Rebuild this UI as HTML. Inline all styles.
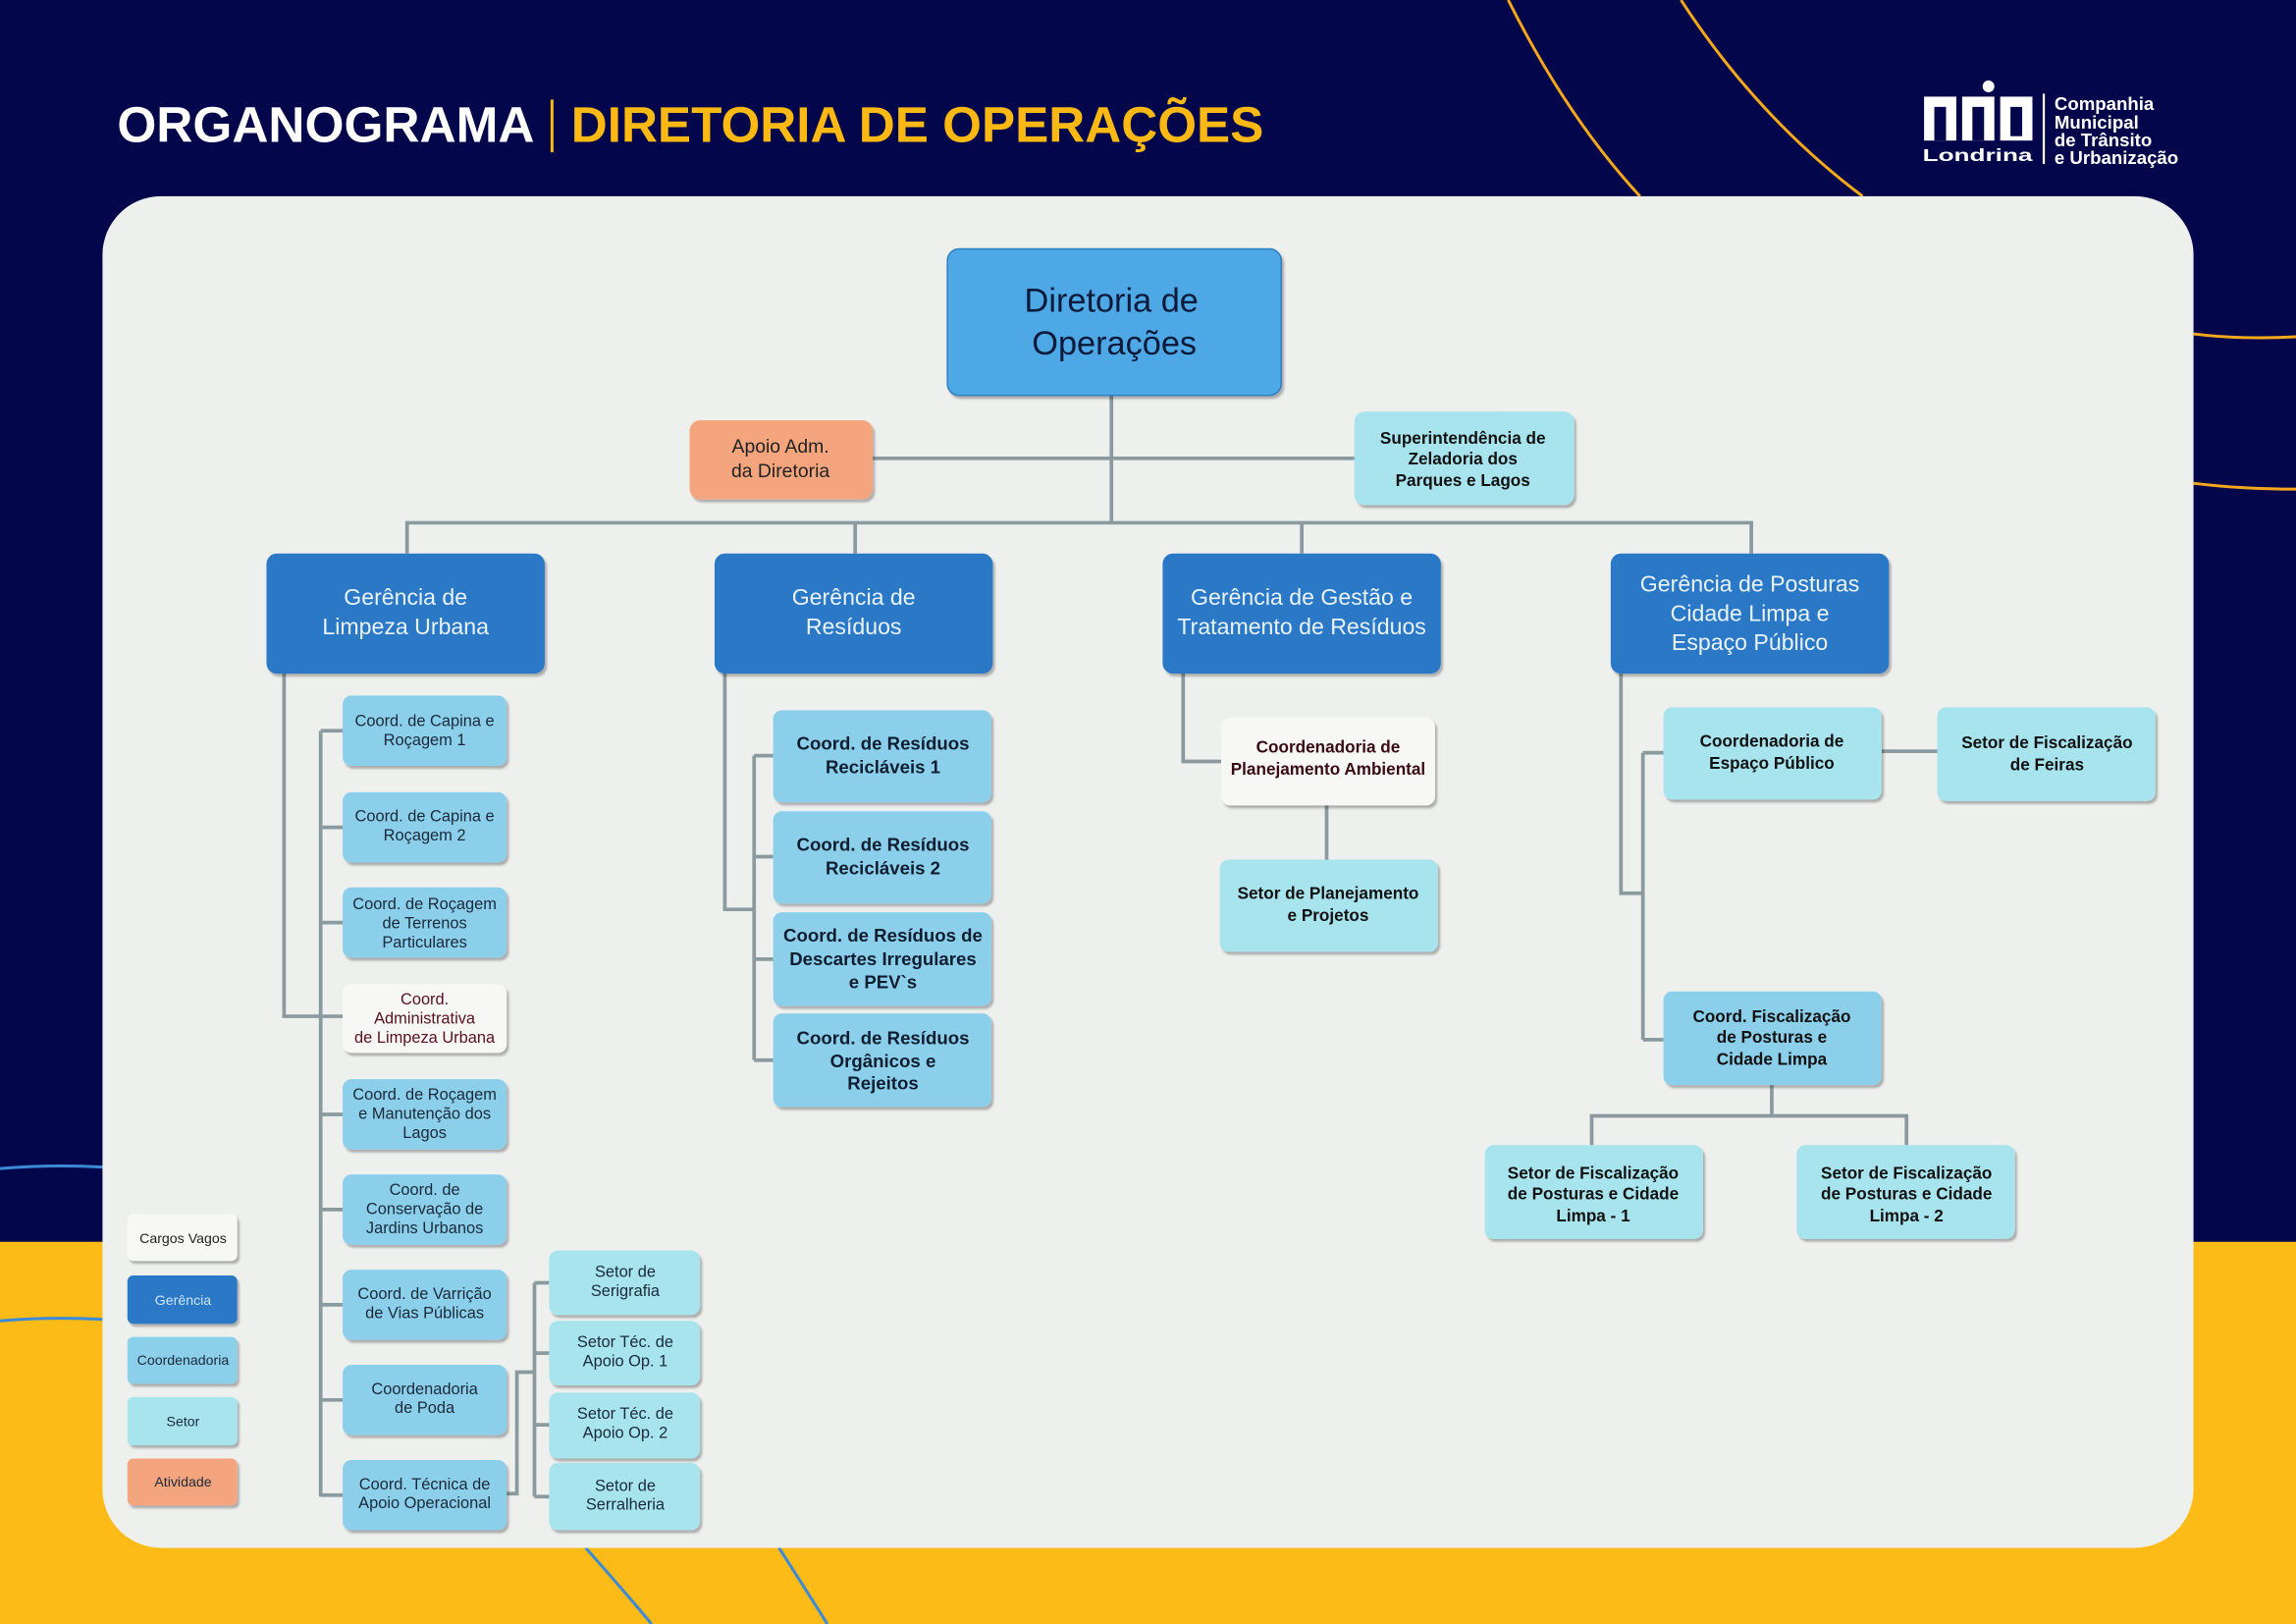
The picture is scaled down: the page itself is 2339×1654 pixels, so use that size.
<!DOCTYPE html>
<html><head><meta charset="utf-8"><style>
html,body{margin:0;padding:0;background:#03064b;}
svg{display:block;}
text{font-family:"Liberation Sans",Arial,sans-serif;}
</style></head><body>
<svg width="2339" height="1654" viewBox="0 0 1568 1109" preserveAspectRatio="none" xmlns="http://www.w3.org/2000/svg">
<defs>
<filter id="sh" x="-10%" y="-10%" width="130%" height="140%"><feDropShadow dx="1.5" dy="2" stdDeviation="0.8" flood-color="#000" flood-opacity="0.28"/></filter>
</defs>
<rect x="0" y="0" width="1568" height="848" fill="#03064b"/>
<rect x="0" y="848" width="1568" height="261" fill="#fcbb16"/>
<!-- decorative curves -->
<path d="M1030 0 Q1070 80 1120 134" fill="none" stroke="#f6a81c" stroke-width="2"/>
<path d="M1148 0 Q1200 80 1272 134" fill="none" stroke="#f6a81c" stroke-width="2"/>
<path d="M1498 228 Q1530 232 1568 230" fill="none" stroke="#f6a81c" stroke-width="2"/>
<path d="M1498 330 Q1530 334 1568 334" fill="none" stroke="#f6a81c" stroke-width="2"/>
<path d="M0 798 Q35 795 70 797" fill="none" stroke="#3a8ad8" stroke-width="2"/>
<path d="M0 902 Q35 899 70 901" fill="none" stroke="#3a8ad8" stroke-width="2"/>
<path d="M400 1057 Q425 1085 445 1109" fill="none" stroke="#3a8ad8" stroke-width="2"/>
<path d="M532 1057 Q550 1085 565 1109" fill="none" stroke="#3a8ad8" stroke-width="2"/>
<!-- header -->
<text x="80" y="97" font-size="34" font-weight="bold" fill="#ffffff" textLength="285" lengthAdjust="spacingAndGlyphs">ORGANOGRAMA</text>
<rect x="376" y="68" width="2" height="36" fill="#fcb813"/>
<text x="390" y="97" font-size="34" font-weight="bold" fill="#fcb813" textLength="473" lengthAdjust="spacingAndGlyphs">DIRETORIA DE OPERAÇÕES</text>
<!-- logo -->
<g fill="#ffffff">
<rect x="1314" y="66" width="22" height="30"/>
<rect x="1340" y="66" width="22" height="30"/>
<rect x="1366" y="66" width="22" height="30"/>
<circle cx="1358" cy="59" r="4"/>
</g>
<g fill="#03064b"><rect x="1321" y="73" width="8" height="23"/><rect x="1347" y="73" width="8" height="23"/><rect x="1373" y="73" width="8" height="20"/></g>
<text x="1313" y="110" font-size="12" font-weight="bold" fill="#fff" textLength="75" lengthAdjust="spacingAndGlyphs">Londrina</text>
<rect x="1395" y="64" width="1.5" height="48" fill="#fff"/>
<g font-size="12.5" font-weight="bold" fill="#fff">
<text x="1403" y="75">Companhia</text><text x="1403" y="88">Municipal</text><text x="1403" y="100">de Trânsito</text><text x="1403" y="112">e Urbanização</text>
</g>
<!-- panel -->
<rect x="70" y="134" width="1428" height="923" rx="40" fill="#eef0ee"/>
<!-- connectors -->
<g fill="none" stroke="#8a9a9e" stroke-width="2.5">
<path d="M759 270 V357 M596 313 H925 M278 378 V357 H1196 V378 M584 357 V378 M889 357 V378"/>
<path d="M194 460 V694 H234 M219 499 V1022 M219 499 H234 M219 565 H234 M219 630 H234 M219 761 H234 M219 826 H234 M219 891 H234 M219 956 H234 M219 1021 H234"/>
<path d="M346 1020 H353 V937 H365 M365 876 V1022 M365 876 H375 M365 924 H375 M365 973 H375 M365 1022 H375"/>
<path d="M495 460 V621 H515 M515 516 V724 M515 516 H528 M515 585 H528 M515 655 H528 M515 724 H528"/>
<path d="M808 460 V520 H834 M906 550 V587"/>
<path d="M1107 460 V610 H1122 M1122 514 V710 M1122 514 H1136 M1122 710 H1136 M1285 513 H1323 M1210 741 V762 M1087 782 V762 H1302 V782"/>
</g>
<!-- boxes -->
<g filter="url(#sh)">
<rect x="647" y="170" width="228" height="100" rx="8" fill="#4fa8e6" stroke="#2f7fc0" stroke-width="1"/>
<rect x="471" y="287" width="125" height="54" rx="7" fill="#f4a57e"/>
<rect x="925" y="281" width="150" height="64" rx="7" fill="#a8e4ee"/>
<rect x="182" y="378" width="190" height="82" rx="7" fill="#2a78c6"/>
<rect x="488" y="378" width="190" height="82" rx="7" fill="#2a78c6"/>
<rect x="794" y="378" width="190" height="82" rx="7" fill="#2a78c6"/>
<rect x="1100" y="378" width="190" height="82" rx="7" fill="#2a78c6"/>
<g fill="#8ccfeb">
<rect x="234" y="475" width="112" height="48" rx="6"/>
<rect x="234" y="541" width="112" height="48" rx="6"/>
<rect x="234" y="606" width="112" height="48" rx="6"/>
<rect x="234" y="737" width="112" height="48" rx="6"/>
<rect x="234" y="802" width="112" height="48" rx="6"/>
<rect x="234" y="867" width="112" height="48" rx="6"/>
<rect x="234" y="932" width="112" height="48" rx="6"/>
<rect x="234" y="997" width="112" height="48" rx="6"/>
<rect x="528" y="485" width="149" height="63" rx="6"/>
<rect x="528" y="554" width="149" height="63" rx="6"/>
<rect x="528" y="623" width="149" height="64" rx="6"/>
<rect x="528" y="692" width="149" height="64" rx="6"/>
<rect x="1136" y="677" width="149" height="64" rx="6"/>
<rect x="87" y="913" width="75" height="32" rx="4"/>
</g>
<rect x="234" y="672" width="112" height="47" rx="6" fill="#f7f8f6"/>
<rect x="834" y="490" width="146" height="60" rx="6" fill="#f7f8f6"/>
<g fill="#a8e4ee">
<rect x="375" y="854" width="103" height="44" rx="6"/>
<rect x="375" y="902" width="103" height="44" rx="6"/>
<rect x="375" y="951" width="103" height="45" rx="6"/>
<rect x="375" y="999" width="103" height="46" rx="6"/>
<rect x="833" y="587" width="149" height="63" rx="6"/>
<rect x="1136" y="483" width="149" height="63" rx="6"/>
<rect x="1323" y="483" width="149" height="64" rx="6"/>
<rect x="1014" y="782" width="149" height="64" rx="6"/>
<rect x="1227" y="782" width="149" height="64" rx="6"/>
<rect x="87" y="954" width="75" height="33" rx="4"/>
</g>
<rect x="87" y="829" width="75" height="32" rx="4" fill="#f7f8f6"/>
<rect x="87" y="871" width="75" height="33" rx="4" fill="#2a78c6"/>
<rect x="87" y="996" width="75" height="32" rx="4" fill="#f4a57e"/>
</g>
<!-- texts -->
<g text-anchor="middle">
<text x="759" y="213" font-size="23" fill="#0a1a3a">Diretoria de</text>
<text x="761" y="242" font-size="23" fill="#0a1a3a">Operações</text>
<g font-size="13" fill="#222"><text x="533" y="309">Apoio Adm.</text><text x="533" y="326">da Diretoria</text></g>
<g font-size="11.5" font-weight="bold" fill="#111"><text x="999" y="303">Superintendência de</text><text x="999" y="317">Zeladoria dos</text><text x="999" y="332">Parques e Lagos</text></g>
<g font-size="15.5" fill="#eaf4ff">
<text x="277" y="413">Gerência de</text><text x="277" y="433">Limpeza Urbana</text>
<text x="583" y="413">Gerência de</text><text x="583" y="433">Resíduos</text>
<text x="889" y="413">Gerência de Gestão e</text><text x="889" y="433">Tratamento de Resíduos</text>
<text x="1195" y="404">Gerência de Posturas</text><text x="1195" y="424">Cidade Limpa e</text><text x="1195" y="444">Espaço Público</text>
</g>
<g font-size="11" fill="#1a2a3a">
<text x="290" y="496">Coord. de Capina e</text><text x="290" y="509">Roçagem  1</text>
<text x="290" y="561">Coord. de Capina e</text><text x="290" y="574">Roçagem  2</text>
<text x="290" y="621">Coord. de Roçagem</text><text x="290" y="634">de Terrenos</text><text x="290" y="647">Particulares</text>
<text x="290" y="686" fill="#5a1020">Coord.</text><text x="290" y="699" fill="#5a1020">Administrativa</text><text x="290" y="712" fill="#5a1020">de Limpeza Urbana</text>
<text x="290" y="751">Coord. de Roçagem</text><text x="290" y="764">e Manutenção dos</text><text x="290" y="777">Lagos</text>
<text x="290" y="816">Coord. de</text><text x="290" y="829">Conservação de</text><text x="290" y="842">Jardins Urbanos</text>
<text x="290" y="887">Coord. de Varrição</text><text x="290" y="900">de Vias Públicas</text>
<text x="290" y="952">Coordenadoria</text><text x="290" y="965">de Poda</text>
<text x="290" y="1017">Coord. Técnica de</text><text x="290" y="1030">Apoio Operacional</text>
<text x="427" y="872">Setor de</text><text x="427" y="885">Serigrafia</text>
<text x="427" y="920">Setor Téc. de</text><text x="427" y="933">Apoio Op. 1</text>
<text x="427" y="969">Setor Téc. de</text><text x="427" y="982">Apoio Op. 2</text>
<text x="427" y="1018">Setor de</text><text x="427" y="1031">Serralheria</text>
</g>
<g font-size="12.5" font-weight="bold" fill="#0e1e30">
<text x="603" y="512">Coord. de Resíduos</text><text x="603" y="528">Recicláveis 1</text>
<text x="603" y="581">Coord. de Resíduos</text><text x="603" y="597">Recicláveis 2</text>
<text x="603" y="643">Coord. de Resíduos de</text><text x="603" y="659">Descartes Irregulares</text><text x="603" y="675">e PEV`s</text>
<text x="603" y="713">Coord. de Resíduos</text><text x="603" y="729">Orgânicos e</text><text x="603" y="744">Rejeitos</text>
</g>
<g font-size="11.5" font-weight="bold">
<text x="907" y="514" fill="#3a0a14">Coordenadoria de</text><text x="907" y="529" fill="#3a0a14">Planejamento Ambiental</text>
<text x="907" y="614" fill="#111">Setor de Planejamento</text><text x="907" y="629" fill="#111">e Projetos</text>
<text x="1210" y="510" fill="#111">Coordenadoria de</text><text x="1210" y="525" fill="#111">Espaço Público</text>
<text x="1398" y="511" fill="#111">Setor de Fiscalização</text><text x="1398" y="526" fill="#111">de Feiras</text>
<text x="1210" y="698" fill="#111">Coord. Fiscalização</text><text x="1210" y="712" fill="#111">de Posturas e</text><text x="1210" y="727" fill="#111">Cidade Limpa</text>
<text x="1088" y="805" fill="#111">Setor de Fiscalização</text><text x="1088" y="819" fill="#111">de Posturas e Cidade</text><text x="1088" y="834" fill="#111">Limpa - 1</text>
<text x="1302" y="805" fill="#111">Setor de Fiscalização</text><text x="1302" y="819" fill="#111">de Posturas e Cidade</text><text x="1302" y="834" fill="#111">Limpa - 2</text>
</g>
<g font-size="9.5">
<text x="125" y="849" fill="#222">Cargos Vagos</text>
<text x="125" y="891" fill="#cfe6ff">Gerência</text>
<text x="125" y="932" fill="#1a2a3a">Coordenadoria</text>
<text x="125" y="974" fill="#1a2a3a">Setor</text>
<text x="125" y="1015" fill="#1a2a3a">Atividade</text>
</g>
</g>
</svg>
</body></html>
